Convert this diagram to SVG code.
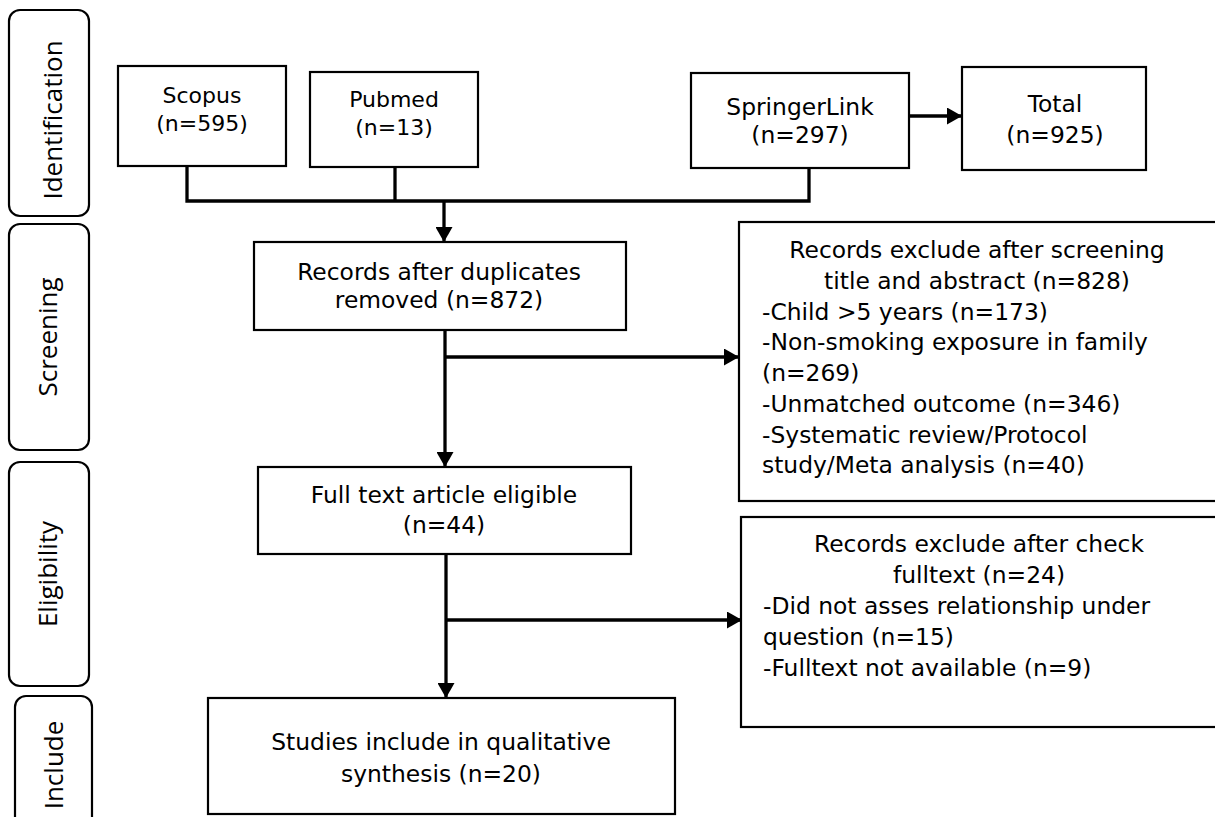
<svg xmlns="http://www.w3.org/2000/svg" width="1215" height="817" viewBox="0 0 1215 817">
<style>
.box{fill:#fff;stroke:#000;stroke-width:2.2}
.phase{fill:#fff;stroke:#000;stroke-width:2.2}
.t{font-family:"DejaVu Sans",Verdana,sans-serif;font-size:23.4px;fill:#000}
.o{font-family:"DejaVu Sans",Verdana,sans-serif;font-size:22px;fill:#000}
.p{font-family:"Open Sans",sans-serif;font-size:26px;fill:#000;text-anchor:middle}
.c{text-anchor:middle}
.ln{fill:none;stroke:#000;stroke-width:3.3}
</style>
<defs>
<marker id="ah" markerUnits="userSpaceOnUse" markerWidth="16" markerHeight="17" refX="15" refY="8.5" orient="auto">
<path d="M0,0 L15,8.5 L0,17 z" fill="#000"/>
</marker>
</defs>
<rect width="1215" height="817" fill="#fff"/>

<g id="phase-identification">
<rect class="phase" x="9" y="10" width="80" height="206" rx="11"/>
<text class="p" transform="translate(62,120) rotate(-90)">Identification</text>
</g>
<g id="phase-screening">
<rect class="phase" x="9" y="224" width="80" height="226" rx="11"/>
<text class="p" transform="translate(57,337) rotate(-90)">Screening</text>
</g>
<g id="phase-eligibility">
<rect class="phase" x="9" y="462" width="80" height="224" rx="11"/>
<text class="p" transform="translate(57,574) rotate(-90)">Eligibility</text>
</g>
<g id="phase-include">
<rect class="phase" x="15" y="696" width="77" height="140" rx="11"/>
<text class="p" transform="translate(63,765) rotate(-90)">Include</text>
</g>

<g id="connectors">
<polyline class="ln" points="187,166 187,201 809,201 809,168"/>
<line class="ln" x1="395" y1="167" x2="395" y2="201"/>
<line class="ln" x1="444" y1="201" x2="444" y2="242" marker-end="url(#ah)"/>
<line class="ln" x1="896" y1="116" x2="962" y2="116" marker-end="url(#ah)"/>
<line class="ln" x1="445" y1="330" x2="445" y2="467" marker-end="url(#ah)"/>
<line class="ln" x1="445" y1="357" x2="739" y2="357" marker-end="url(#ah)"/>
<line class="ln" x1="446" y1="554" x2="446" y2="698" marker-end="url(#ah)"/>
<line class="ln" x1="446" y1="620" x2="742" y2="620" marker-end="url(#ah)"/>
</g>

<g id="scopus">
<rect class="box" x="118" y="66" width="168" height="100"/>
<text class="o c" x="202" y="103">Scopus</text>
<text class="o c" x="202" y="131">(n=595)</text>
</g>
<g id="pubmed">
<rect class="box" x="310" y="72" width="168" height="95"/>
<text class="o c" x="394" y="107">Pubmed</text>
<text class="o c" x="394" y="135">(n=13)</text>
</g>
<g id="springerlink">
<rect class="box" x="691" y="73" width="218" height="95"/>
<text class="t c" x="800" y="115">SpringerLink</text>
<text class="t c" x="800" y="143">(n=297)</text>
</g>
<g id="total">
<rect class="box" x="962" y="67" width="184" height="103"/>
<text class="t c" x="1055" y="112">Total</text>
<text class="t c" x="1055" y="143">(n=925)</text>
</g>
<g id="records-after-duplicates">
<rect class="box" x="254" y="242" width="372" height="88"/>
<text class="t c" x="439" y="280">Records after duplicates</text>
<text class="t c" x="439" y="308">removed (n=872)</text>
</g>
<g id="excluded-screening">
<rect class="box" x="739" y="222" width="480" height="279"/>
<text class="t c" x="977" y="258">Records exclude after screening</text>
<text class="t c" x="977" y="289">title and abstract (n=828)</text>
<text class="t" x="762" y="320">-Child &gt;5 years (n=173)</text>
<text class="t" x="762" y="350">-Non-smoking exposure in family</text>
<text class="t" x="762" y="381">(n=269)</text>
<text class="t" x="762" y="412">-Unmatched outcome (n=346)</text>
<text class="t" x="762" y="443">-Systematic review/Protocol</text>
<text class="t" x="762" y="473">study/Meta analysis (n=40)</text>
</g>
<g id="full-text-eligible">
<rect class="box" x="258" y="467" width="373" height="87"/>
<text class="t c" x="444" y="503">Full text article eligible</text>
<text class="t c" x="444" y="533">(n=44)</text>
</g>
<g id="excluded-fulltext">
<rect class="box" x="741" y="517" width="478" height="210"/>
<text class="t c" x="979" y="552">Records exclude after check</text>
<text class="t c" x="979" y="583">fulltext (n=24)</text>
<text class="t" x="763" y="614">-Did not asses relationship under</text>
<text class="t" x="763" y="645">question (n=15)</text>
<text class="t" x="763" y="676">-Fulltext not available (n=9)</text>
</g>
<g id="studies-included">
<rect class="box" x="208" y="698" width="467" height="116"/>
<text class="t c" x="441" y="750">Studies include in qualitative</text>
<text class="t c" x="441" y="782">synthesis (n=20)</text>
</g>
</svg>
